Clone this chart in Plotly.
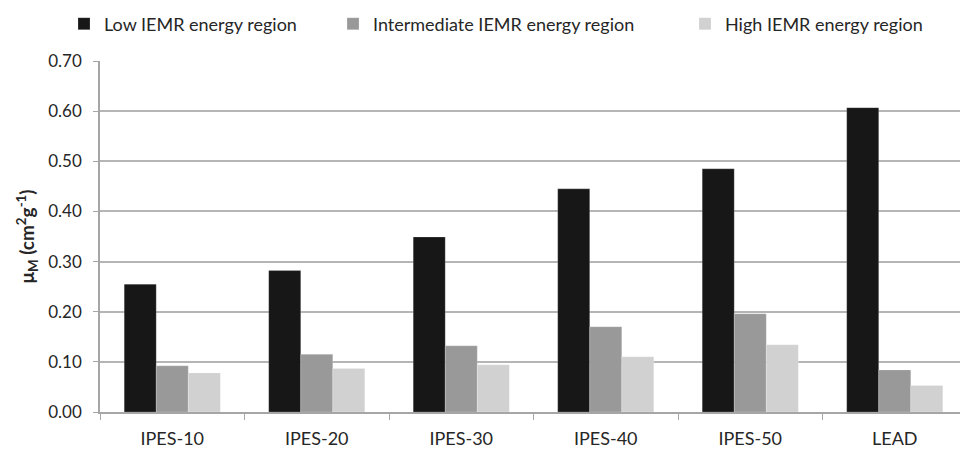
import plotly.graph_objects as go

categories = ["IPES-10", "IPES-20", "IPES-30", "IPES-40", "IPES-50", "LEAD"]
low_vals = [0.255, 0.282, 0.349, 0.445, 0.485, 0.607]
mid_vals = [0.092, 0.115, 0.132, 0.170, 0.196, 0.084]
high_vals = [0.078, 0.087, 0.094, 0.110, 0.134, 0.053]
y_ticks = [0.0, 0.1, 0.2, 0.3, 0.4, 0.5, 0.6, 0.7]
y_tick_labels = ["0.00", "0.10", "0.20", "0.30", "0.40", "0.50", "0.60", "0.70"]

series = [
    ("Low IEMR energy region", low_vals, "#171717", "legend"),
    ("Intermediate IEMR energy region", mid_vals, "#999999", "legend2"),
    ("High IEMR energy region", high_vals, "#d0d1d0", "legend3"),
]

fig = go.Figure()
for name, vals, col, lg in series:
    fig.add_trace(go.Bar(
        x=categories, y=vals, name=name, legend=lg, showlegend=True,
        marker=dict(color=col, line=dict(color="rgba(255,255,255,0.4)", width=0.5)),
    ))

W, H = 960, 444  # page body adds an 8px offset
font_family = "Lato, Carlito, 'Open Sans', sans-serif"
txt = "#262626"

def leg(px_left):
    return dict(
        orientation="h", x=px_left / W, xanchor="left", xref="container",
        y=1 - 16 / H, yanchor="middle", yref="container",
        font=dict(size=18, color=txt), itemwidth=30, bgcolor="rgba(0,0,0,0)",
        visible=True,
    )

fig.update_layout(
    width=W, height=H, showlegend=True,
    margin=dict(l=92, r=1, t=53, b=40, autoexpand=False),
    paper_bgcolor="white", plot_bgcolor="white",
    barmode="group", bargap=0.335, bargroupgap=0,
    font=dict(family=font_family, size=17, color=txt),
    legend=leg(56), legend2=leg(325), legend3=leg(677),
    xaxis=dict(
        showline=True, linecolor="#a6a6a6", linewidth=1.5,
        ticks="outside", tickson="boundaries", ticklen=6, tickcolor="#a6a6a6",
        showgrid=False, tickfont=dict(size=18, color=txt), automargin=False,
        ticklabelstandoff=10,
    ),
    yaxis=dict(
        range=[0, 0.7], tickvals=y_ticks, ticktext=y_tick_labels,
        showline=True, linecolor="#a6a6a6", linewidth=1.5,
        ticks="outside", ticklen=5, tickcolor="#a6a6a6",
        showgrid=True, gridcolor="#b5b5b5", gridwidth=1.5,
        zeroline=False, tickfont=dict(size=17, color=txt), automargin=False,
        ticklabelstandoff=8,
        title=dict(text="<b>μ<sub>M</sub> (cm<sup>2</sup>g<sup>-1</sup>)</b>",
                   font=dict(size=19, color=txt), standoff=9),
    ),
)
fig.write_html("out.html")
